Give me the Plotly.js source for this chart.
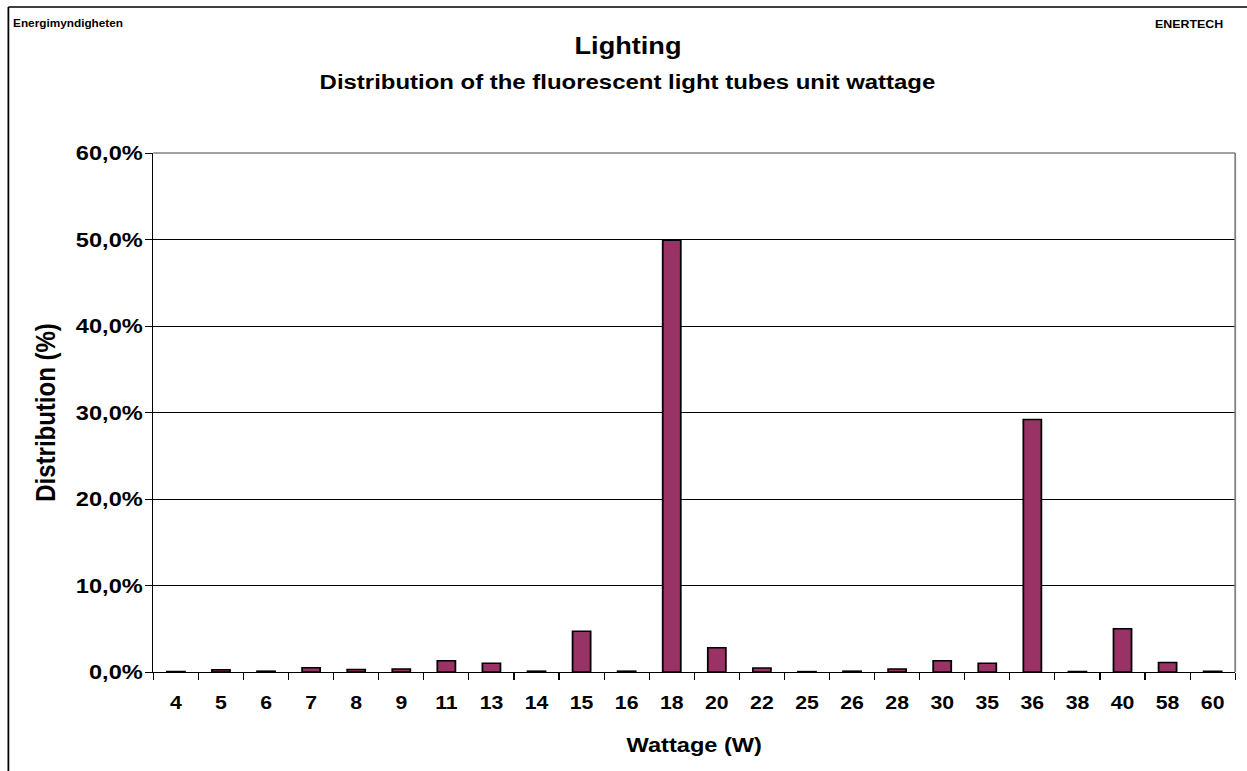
<!DOCTYPE html>
<html>
<head>
<meta charset="utf-8">
<script src="https://cdn.plot.ly/plotly-3.0.1.min.js"></script>
<style>
  html, body { margin: 0; padding: 0; background: #ffffff; overflow: hidden; }
  #chart { width: 1057px; height: 771px; transform-origin: 0 0; }
</style>
</head>
<body>
<div id="chart"></div>
<script>
// ---- Data ----
const wattages = ['4','5','6','7','8','9','11','13','14','15','16','18','20','22','25','26','28','30','35','36','38','40','58','60'];
const distribution = [0.05, 0.25, 0.1, 0.5, 0.3, 0.35, 1.3, 1.0, 0.1, 4.7, 0.1, 49.9, 2.8, 0.45, 0.05, 0.1, 0.35, 1.3, 1.0, 29.2, 0.05, 5.0, 1.1, 0.1];
const yTicks = [0, 10, 20, 30, 40, 50, 60];
const yTickLabels = ['0,0%', '10,0%', '20,0%', '30,0%', '40,0%', '50,0%', '60,0%'];

const titleText = 'Lighting';
const subtitleText = 'Distribution of the fluorescent light tubes unit wattage';
const leftNote = 'Energimyndigheten';
const rightNote = 'ENERTECH';
const xTitle = 'Wattage (W)';
const yTitle = 'Distribution (%)';

// ---- Layout geometry (the reference is horizontally stretched) ----
const REF_W = 1247, H = 771;
const W = 1057;
const s = REF_W / W;
document.getElementById('chart').style.transform = 'scaleX(' + s + ')';

const plotLeft = 153, plotRight = 1235, plotTop = 153, plotBottom = 672;
const L = plotLeft / s, R = W - plotRight / s, T = plotTop, B = H - plotBottom;
function fx(px) { return (px / s - L) / (W - L - R); }
function fy(py) { return (plotBottom - py) / (plotBottom - plotTop); }

const FONT = 'Liberation Sans, Arial, sans-serif';

const trace = {
  type: 'bar',
  x: wattages,
  y: distribution,
  marker: { color: '#993366', line: { color: '#000000', width: 1.5 } },
  hoverinfo: 'x+y'
};

const layout = {
  width: W,
  height: H,
  margin: { l: L, r: R, t: T, b: B, pad: 0 },
  paper_bgcolor: '#ffffff',
  plot_bgcolor: '#ffffff',
  showlegend: false,
  bargap: 0.6,
  font: { family: FONT, color: '#000000' },
  xaxis: {
    type: 'category',
    categoryorder: 'array',
    categoryarray: wattages,
    showline: true, linecolor: '#000000', linewidth: 1,
    ticks: 'outside', tickson: 'boundaries', ticklen: 7, tickcolor: '#000000', tickwidth: 1,
    ticklabelstandoff: 14,
    showgrid: false,
    tickfont: { family: FONT, size: 18, weight: 'bold', color: '#000000' },
    title: { text: '<b>' + xTitle + '</b>', font: { family: FONT, size: 20, color: '#000000' }, standoff: 26 },
    fixedrange: true
  },
  yaxis: {
    range: [0, 60],
    tickmode: 'array',
    tickvals: yTicks,
    ticktext: yTickLabels,
    showline: true, linecolor: '#000000', linewidth: 1,
    ticks: 'outside', ticklen: 6, tickcolor: '#000000', tickwidth: 1,
    ticklabelstandoff: -2,
    showgrid: true, gridcolor: '#000000', gridwidth: 1,
    zeroline: false,
    tickfont: { family: FONT, size: 20, weight: 'bold', color: '#000000' },
    title: { text: '<b>' + yTitle + '</b>', font: { family: FONT, size: 24, color: '#000000' }, standoff: 10 },
    fixedrange: true
  },
  shapes: [
    // outer chart frame (top and left edges)
    { type: 'line', xref: 'paper', yref: 'paper', x0: fx(8), x1: fx(1247), y0: fy(7), y1: fy(7), line: { color: '#000000', width: 1.5 } },
    { type: 'line', xref: 'paper', yref: 'paper', x0: fx(8), x1: fx(8), y0: fy(7), y1: fy(771), line: { color: '#000000', width: 1.5 } },
    // grey plot-area border (top and right)
    { type: 'line', xref: 'paper', yref: 'paper', x0: 0, x1: 1, y0: 1, y1: 1, line: { color: '#808080', width: 1.5 }, layer: 'above' },
    { type: 'line', xref: 'paper', yref: 'paper', x0: 1, x1: 1, y0: 0, y1: 1, line: { color: '#808080', width: 1.5 }, layer: 'above' }
  ],
  annotations: [
    { text: '<b>' + leftNote + '</b>', xref: 'paper', yref: 'paper', x: fx(10), y: fy(24), xanchor: 'left', yanchor: 'middle', showarrow: false, font: { family: FONT, size: 10, color: '#000000' } },
    { text: '<b>' + rightNote + '</b>', xref: 'paper', yref: 'paper', x: fx(1226), y: fy(24), xanchor: 'right', yanchor: 'middle', showarrow: false, font: { family: FONT, size: 10.5, color: '#000000' } },
    { text: '<b>' + titleText + '</b>', xref: 'paper', yref: 'paper', x: fx(628), y: fy(46), xanchor: 'center', yanchor: 'middle', showarrow: false, font: { family: FONT, size: 23, color: '#000000' } },
    { text: '<b>' + subtitleText + '</b>', xref: 'paper', yref: 'paper', x: fx(627), y: fy(82), xanchor: 'center', yanchor: 'middle', showarrow: false, font: { family: FONT, size: 20.3, color: '#000000' } }
  ]
};

Plotly.newPlot('chart', [trace], layout, { displayModeBar: false, staticPlot: true });
</script>
</body>
</html>
